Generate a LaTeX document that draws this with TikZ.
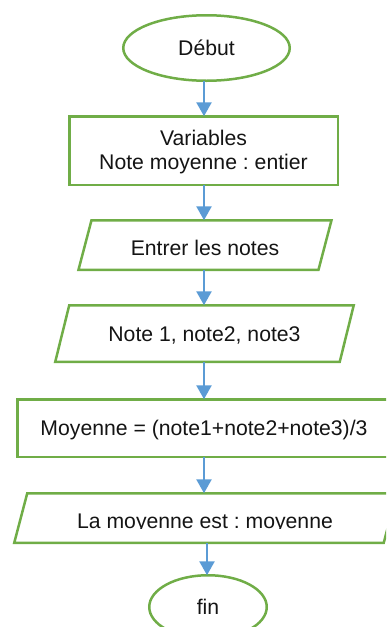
\documentclass[tikz,border=0pt]{standalone}
\usepackage{fontspec}
\setmainfont{Liberation Sans}
\usetikzlibrary{shapes.geometric,arrows.meta,calc}
\frenchspacing

\definecolor{boxgreen}{RGB}{112,173,71}
\definecolor{flowblue}{RGB}{91,155,213}
\definecolor{inktext}{RGB}{20,20,20}

\tikzset{
  flowtext/.style={font=\fontsize{21.2}{24}\selectfont, text=inktext},
  terminal/.style={ellipse, draw=boxgreen, line width=2.5pt, fill=white,
    inner sep=0pt, outer sep=0pt, flowtext, text height=15.2pt, text depth=0pt},
  procbox/.style={rectangle, draw=boxgreen, line width=2.5pt, fill=white,
    inner sep=0pt, outer sep=0pt, flowtext, text height=15.2pt, text depth=0pt},
  iobase/.style={rectangle, draw=none, inner sep=0pt, outer sep=0pt,
    flowtext, text height=15.2pt, text depth=0pt},
  iooutline/.style={draw=boxgreen, line width=2.5pt, line join=miter},
  flowarrow/.style={draw=flowblue, line width=2.5pt,
    -{Triangle[length=14pt,width=15pt]}}
}

% parallelogram drawn around a plain rectangle node; #2 = half of the slant
\newcommand{\ioshape}[2]{%
  \draw[iooutline] ($(#1.north west)+(#2,0)$) -- ($(#1.north east)+(#2,0)$)
    -- ($(#1.south east)+(-#2,0)$) -- ($(#1.south west)+(-#2,0)$) -- cycle;}

\begin{document}
\begin{tikzpicture}[x=1pt,y=-1pt]
\useasboundingbox (0,0) rectangle (386,627);
\clip (0,0) rectangle (386,627);

% start
\node[terminal, minimum width=166.5pt, minimum height=65.5pt] (debut) at (206.5,48) {Début};

% declarations
\node[procbox, minimum width=268.5pt, minimum height=68.5pt] (vars) at (203.5,150.5) {};
\node[flowtext, align=center, inner sep=0pt] (varstext) at (203.5,152.5)
  {Variables\\Note moyenne : entier};

% input prompt
\node[iobase, minimum width=240pt, minimum height=49.5pt] (entrer) at (205,245) {};
\ioshape{entrer}{6.5}
\node[flowtext, inner sep=0pt, text height=15.2pt, text depth=0pt] (entrertext) at (205,248) {Entrer les notes};

% read the three marks
\node[iobase, minimum width=284.5pt, minimum height=56.5pt] (lire) at (204.5,333.5) {};
\ioshape{lire}{7}
\node[flowtext, inner sep=0pt, text height=15.2pt, text depth=0pt] (liretext) at (204.5,333.5) {Note 1, note2, note3};

% computation
\node[procbox, minimum width=373.5pt, minimum height=57.5pt] (calc) at (204,428)
  {Moyenne = (note1+note2+note3)/3};

% output
\node[iobase, minimum width=369.5pt, minimum height=49.5pt] (res) at (205.5,518) {};
\ioshape{res}{6.5}
\begin{scope}
  \clip (0,0) rectangle (386,528);
  \node[flowtext, inner sep=0pt, text height=15.2pt, text depth=0pt] (restext) at (205,520.4)
    {La moyenne est : moyenne};
\end{scope}

% end
\node[terminal, minimum width=117.5pt, minimum height=63.5pt] (fin) at (208,607) {fin};

% connectors
\draw[flowarrow] (debut.south -| 204,0) -- (vars.north -| 204,0);
\draw[flowarrow] (vars.south -| 204,0) -- (entrer.north -| 204,0);
\draw[flowarrow] (entrer.south -| 204,0) -- (lire.north -| 204,0);
\draw[flowarrow] (lire.south -| 204,0) -- (calc.north -| 204,0);
\draw[flowarrow] (calc.south -| 204,0) -- (res.north -| 204,0);
\draw[flowarrow] (res.south -| 207,0) -- (fin.north -| 207,0);
\end{tikzpicture}
\end{document}
